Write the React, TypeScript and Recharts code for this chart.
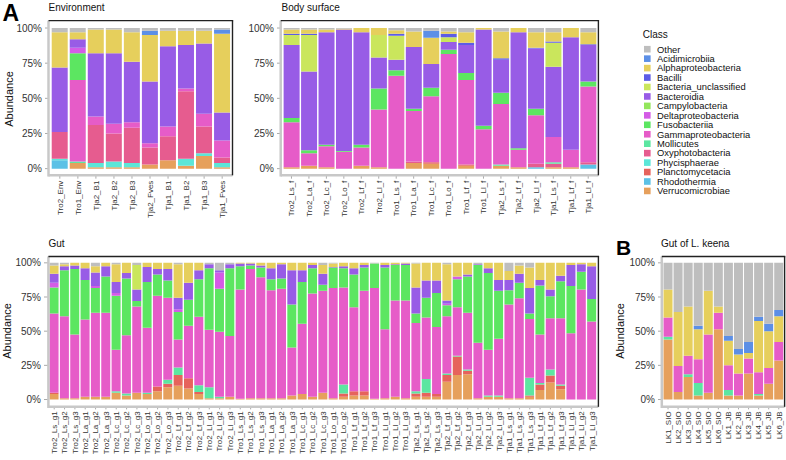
import React from 'react';
import { BarChart, Bar, XAxis, YAxis } from 'recharts';

const FONT = '"Liberation Sans", Arial, Helvetica, sans-serif';

// legend order (top of the stack first)
const CLASSES = [
  'Other', 'Acidimicrobiia', 'Alphaproteobacteria', 'Bacilli', 'Bacteria_unclassified',
  'Bacteroidia', 'Campylobacteria', 'Deltaproteobacteria', 'Fusobacteriia', 'Gammaproteobacteria',
  'Mollicutes', 'Oxyphotobacteria', 'Phycisphaerae', 'Planctomycetacia', 'Rhodothermia', 'Verrucomicrobiae',
];
const CLASS_KEYS = ['Oth', 'Aci', 'Alp', 'Bci', 'BUn', 'Bct', 'Cam', 'Del', 'Fus', 'Gam', 'Mol', 'Oxy', 'Phy', 'Pla', 'Rho', 'Ver'];
const CLASS_COLORS = [
  '#BEBEBE', '#5C8FE6', '#E6CF5C', '#5C5CE6', '#CAE65C',
  '#985CE6', '#93E65C', '#D45CE6', '#5CE661', '#E65CC8',
  '#5CE6A1', '#E65C8F', '#5CE6D8', '#E6635C', '#5CC1E6', '#E6A05C',
];

type Row = { [k: string]: number };

// abundance in %, per sample
const envSamples = ['Tro2_Env', 'Tro1_Env', 'Tja2_B1', 'Tja2_B2', 'Tja2_B3', 'Tja2_Fves', 'Tja1_B1', 'Tja1_B2', 'Tja1_B3', 'Tja1_Fves'];
const envRows: Row[] = [
  { Rho: 6, Phy: 1, Oxy: 19, Bct: 46, Alp: 25, Oth: 3 },
  { Ver: 4, Mol: 1, Gam: 58, Fus: 19, Del: 4, Bct: 6, Alp: 5, Oth: 3 },
  { Ver: 1, Phy: 3, Oxy: 27, Gam: 6, Bct: 45, Alp: 17, Oth: 1 },
  { Ver: 1, Phy: 4, Oxy: 20, Gam: 7, Bct: 50, Alp: 17, Oth: 1 },
  { Ver: 1, Phy: 3, Oxy: 25, Gam: 4, Bct: 43, Alp: 21, Oth: 3 },
  { Ver: 3, Oxy: 12, Gam: 3, Bct: 44, Alp: 33, Aci: 3, Oth: 2 },
  { Ver: 6, Oxy: 17, Gam: 7, Bct: 57, Alp: 11, Oth: 2 },
  { Ver: 2, Phy: 5, Oxy: 48, Gam: 2, Bct: 31, Alp: 10, Oth: 2 },
  { Ver: 9, Phy: 2, Oxy: 19, Gam: 9, Bct: 50, Alp: 9, Oth: 2 },
  { Ver: 1, Phy: 3, Oxy: 4, Gam: 12, Bct: 20, Alp: 56, Aci: 3, Oth: 1 },
];

const bodySamples = [
  'Tro2_Ls_f', 'Tro2_La_f', 'Tro2_Lc_f', 'Tro2_Lo_f', 'Tro2_Lf_f', 'Tro2_Ll_f',
  'Tro1_Ls_f', 'Tro1_La_f', 'Tro1_Lc_f', 'Tro1_Lo_f', 'Tro1_Lf_f', 'Tro1_Ll_f',
  'Tja2_Ls_f', 'Tja2_Lf_f', 'Tja2_Ll_f', 'Tja1_Ls_f', 'Tja1_Lf_f', 'Tja1_Ll_f',
];
const bodyRows: Row[] = [
  { Ver: 1, Gam: 32, Fus: 3, Bct: 52, BUn: 7, Bci: 1, Alp: 3, Oth: 1 },
  { Ver: 2, Gam: 9, Fus: 2, Bct: 56, BUn: 26, Bci: 1, Alp: 3, Oth: 1 },
  { Ver: 1, Gam: 15, Fus: 1, Bct: 80, Alp: 2, Oth: 1 },
  { Gam: 12, Fus: 0.5, Bct: 86.5, Alp: 0.5, Oth: 0.5 },
  { Ver: 2, Gam: 13, Fus: 2, Bct: 80, Alp: 3 },
  { Ver: 1, Gam: 41, Fus: 15, Bct: 22, BUn: 16, Alp: 5 },
  { Gam: 66, Fus: 4, Bct: 7.5, BUn: 17, Bci: 1.5, Alp: 2.5, Oth: 1.5 },
  { Ver: 4, Oxy: 1, Gam: 36, Fus: 1.5, Bct: 44, Alp: 11, Oth: 2.5 },
  { Ver: 3.5, Pla: 1, Gam: 47, Fus: 6, Bct: 17, Alp: 18.5, Aci: 5, Oth: 2 },
  { Gam: 81.5, Fus: 3, Bct: 5.5, BUn: 3.5, Bci: 2.5, Alp: 1.5, Oth: 2.5 },
  { Ver: 2, Pla: 1, Gam: 60, Fus: 5, Bct: 20, Bci: 1.5, Alp: 7.5, Oth: 3 },
  { Gam: 28, Fus: 2.5, Bct: 68.5, Alp: 1 },
  { Ver: 2, Mol: 1, Gam: 43, Fus: 8, Bct: 23.5, Bci: 1, Alp: 19, Oth: 2.5 },
  { Ver: 1, Gam: 12.5, Fus: 1, Bct: 82.5, Alp: 3 },
  { Rho: 1, Oxy: 2.5, Gam: 34.5, Fus: 4.5, Bct: 43, Bci: 0.5, Alp: 11, Oth: 3 },
  { Ver: 1, Oxy: 2.5, Mol: 1, Gam: 18, Bct: 50, BUn: 17, Bci: 1, Alp: 6.5, Oth: 3 },
  { Ver: 1, Gam: 12.5, Bct: 80, Alp: 6.5 },
  { Rho: 3, Oxy: 1.5, Gam: 54, Fus: 3.5, Bct: 26, Bci: 0.5, Alp: 8.5, Oth: 3 },
];

const gutSamples = [
  'Tro2_Ls_g1', 'Tro2_Ls_g2', 'Tro2_Ls_g3', 'Tro2_La_g1', 'Tro2_La_g2', 'Tro2_La_g3',
  'Tro2_Lc_g1', 'Tro2_Lc_g2', 'Tro2_Lc_g3', 'Tro2_Lo_g1', 'Tro2_Lo_g2', 'Tro2_Lo_g3',
  'Tro2_Lf_g1', 'Tro2_Lf_g2', 'Tro2_Lf_g3', 'Tro2_Ll_g1', 'Tro2_Ll_g2', 'Tro2_Ll_g3',
  'Tro1_Ls_g1', 'Tro1_Ls_g2', 'Tro1_Ls_g3', 'Tro1_La_g1', 'Tro1_La_g2', 'Tro1_La_g3',
  'Tro1_Lc_g1', 'Tro1_Lc_g2', 'Tro1_Lc_g3', 'Tro1_Lo_g1', 'Tro1_Lo_g2',
  'Tro1_Lf_g1', 'Tro1_Lf_g2', 'Tro1_Lf_g3', 'Tro1_Ll_g1', 'Tro1_Ll_g2', 'Tro1_Ll_g3',
  'Tja2_Ls_g1', 'Tja2_Ls_g2', 'Tja2_Ls_g3', 'Tja2_Lf_g1', 'Tja2_Lf_g2', 'Tja2_Lf_g3',
  'Tja2_Ll_g1', 'Tja2_Ll_g2', 'Tja2_Ll_g3',
  'Tja1_Ls_g1', 'Tja1_Ls_g2', 'Tja1_Ls_g3', 'Tja1_Lf_g1', 'Tja1_Lf_g2', 'Tja1_Lf_g3',
  'Tja1_Ll_g1', 'Tja1_Ll_g2', 'Tja1_Ll_g3',
];
const gutRows: Row[] = [
  { Ver: 4, Pla: 1, Gam: 58, Fus: 19, Del: 3.5, Bct: 6.5, Alp: 6, Oth: 2 },
  { Ver: 1, Gam: 60, Fus: 33.5, Bct: 3, Alp: 1.5, Oth: 1 },
  { Ver: 1, Gam: 46.5, Fus: 48, Bct: 2.5, Alp: 2 },
  { Ver: 2, Gam: 56.5, Fus: 29, Bct: 8.5, Alp: 4 },
  { Ver: 2, Gam: 61.5, Fus: 18, Del: 1.5, Bct: 10, Alp: 4.5, Oth: 2.5 },
  { Ver: 2, Gam: 61.5, Fus: 26.5, Bct: 7.5, Alp: 2.5 },
  { Ver: 5, Mol: 1, Gam: 30.5, Fus: 39.5, Del: 2, Bct: 8, Alp: 13, Oth: 1 },
  { Ver: 3, Mol: 1.5, Gam: 42.5, Fus: 41.5, Bct: 4, Alp: 7.5 },
  { Ver: 5, Gam: 63, Fus: 4, Bct: 8.5, BUn: 18, Oth: 1.5 },
  { Ver: 4, Mol: 1, Gam: 47.5, Fus: 33.5, Bct: 11, Alp: 3 },
  { Ver: 6, Pla: 3.5, Gam: 66.5, Fus: 15.5, Bct: 4, Alp: 4.5 },
  { Ver: 9, Pla: 2.5, Mol: 3, Gam: 60, Fus: 12.5, Bct: 8.5, Alp: 4.5 },
  { Ver: 10, Pla: 8, Mol: 5.5, Gam: 20.5, Fus: 20, Del: 2, Bct: 8.5, Alp: 24.5, Oth: 1 },
  { Ver: 8, Pla: 7.5, Gam: 38.5, Fus: 19, Bct: 12.5, Alp: 14.5 },
  { Ver: 4, Pla: 1.5, Mol: 5, Gam: 50, Fus: 27.5, Bct: 6.5, Alp: 5.5 },
  { Ver: 1, Mol: 8, Gam: 42, Fus: 45, Bct: 3, Oth: 1 },
  { Ver: 1, Mol: 1, Gam: 47.5, Fus: 31.5, Del: 12, Bct: 1.5, Oth: 5.5 },
  { Ver: 2, Gam: 44.5, Fus: 49.5, Bct: 3, Oth: 1 },
  { Ver: 0.5, Gam: 80, Fus: 17, Bct: 2, Alp: 0.5 },
  { Ver: 1, Gam: 94.5, Fus: 2.5, Bct: 1.5, Alp: 0.5 },
  { Ver: 1, Gam: 88.5, Fus: 7, Bct: 1.5, Alp: 2 },
  { Ver: 1, Gam: 79, Fus: 8, Bct: 8, Alp: 4 },
  { Ver: 1, Gam: 80, Fus: 7.5, Bct: 10.5, Alp: 1 },
  { Ver: 3, Gam: 35, Fus: 31.5, Bct: 25, Alp: 5.5 },
  { Ver: 4, Gam: 51.5, Fus: 30.5, Bct: 8.5, Alp: 5.5 },
  { Ver: 2, Gam: 75.5, Fus: 18.5, Bct: 2.5, Alp: 1.5 },
  { Ver: 5, Gam: 74.5, Fus: 4.5, Bct: 8, Alp: 6.5, Oth: 1.5 },
  { Ver: 1, Gam: 80.5, Fus: 15, Bct: 0.5, Alp: 2.5, Oth: 0.5 },
  { Ver: 2, Pla: 2.5, Mol: 6.5, Gam: 71, Fus: 14, Bct: 1.5, Alp: 2.5 },
  { Ver: 3, Pla: 3, Gam: 61.5, Fus: 24, Bct: 4.5, Alp: 4 },
  { Ver: 3, Pla: 3, Gam: 73.5, Fus: 17, Bct: 2, Alp: 1.5 },
  { Ver: 0.5, Gam: 81, Fus: 18, Oth: 0.5 },
  { Ver: 1, Gam: 50.5, Fus: 45, Bct: 2, Alp: 1.5 },
  { Ver: 2, Gam: 70.5, Fus: 26, Bct: 0.5, Alp: 1 },
  { Ver: 1, Gam: 71.5, Fus: 26, Bct: 1, Alp: 0.5 },
  { Ver: 2, Pla: 2.5, Mol: 1.5, Gam: 50, Fus: 7, Bct: 19, Alp: 17.5, Oth: 0.5 },
  { Ver: 2, Pla: 3, Mol: 10, Gam: 45, Fus: 14.5, Bct: 12.5, Alp: 13 },
  { Ver: 2, Pla: 2, Gam: 49, Fus: 25, Bct: 9, Alp: 13 },
  { Ver: 13, Pla: 5, Mol: 1, Gam: 42, Fus: 8, Del: 1, Bct: 2.5, Alp: 26.5, Oth: 1 },
  { Ver: 18, Pla: 13.5, Mol: 0.5, Gam: 35.5, Fus: 20.5, Del: 2, Alp: 10 },
  { Ver: 18.5, Pla: 2.5, Mol: 1, Gam: 41.5, Fus: 26.5, Bct: 1.5, Alp: 8.5 },
  { Ver: 1, Gam: 40.5, Fus: 57, Bct: 0.5, Oth: 1 },
  { Ver: 2, Mol: 1, Gam: 33.5, Fus: 56, Bct: 3.5, Alp: 4 },
  { Ver: 2, Mol: 1, Gam: 41.5, Fus: 35, Bct: 8, Alp: 12.5 },
  { Ver: 1, Gam: 68.5, Fus: 10.5, Bct: 7.5, Alp: 6.5, Oth: 6 },
  { Ver: 1, Gam: 73, Fus: 11.5, Bct: 6.5, Alp: 6, Oth: 2 },
  { Ver: 2, Pla: 1, Mol: 13, Gam: 43, Fus: 4, Bct: 18.5, Alp: 15, Oth: 3.5 },
  { Ver: 7, Pla: 4, Mol: 1, Gam: 35.5, Fus: 36, Bct: 4, Alp: 12.5 },
  { Ver: 12.5, Pla: 5, Mol: 4.5, Gam: 37.5, Fus: 16, Bct: 5, Alp: 19.5 },
  { Ver: 7.5, Pla: 2.5, Mol: 1, Gam: 48.5, Fus: 27, Bct: 4, Alp: 9.5 },
  { Gam: 48.5, Fus: 34.5, Bct: 15.5, Alp: 1.5 },
  { Gam: 80.5, Fus: 13, Bct: 5.5, Alp: 1 },
  { Gam: 57, Fus: 16.5, Bct: 24, Alp: 2.5 },
];

const lkSamples = ['LK1_SIO', 'LK2_SIO', 'LK3_SIO', 'LK4_SIO', 'LK5_SIO', 'LK6_SIO', 'LK1_JB', 'LK2_JB', 'LK3_JB', 'LK4_JB', 'LK5_JB', 'LK6_JB'];
const lkRows: Row[] = [
  { Ver: 44, Mol: 2, Gam: 14, Alp: 20.5, Oth: 19.5 },
  { Ver: 5.5, Gam: 19, Alp: 39.5, Oth: 36 },
  { Ver: 16.5, Mol: 2, Gam: 13.5, Alp: 36, Oth: 32 },
  { Ver: 3, Mol: 9, Gam: 17.5, Alp: 22, Aci: 2.5, Oth: 46 },
  { Ver: 5, Gam: 42.5, Alp: 32, Oth: 20.5 },
  { Ver: 51.5, Gam: 12, Alp: 4.5, Oth: 32 },
  { Ver: 3, Mol: 4, Gam: 18, Alp: 18, Aci: 3.5, Oth: 53.5 },
  { Ver: 3, Gam: 16, Alp: 14, Aci: 4, Oth: 63 },
  { Ver: 19, Gam: 11, Alp: 4, Aci: 8, Oth: 58 },
  { Ver: 3, Mol: 1, Gam: 16, Alp: 37.5, Aci: 3, Oth: 39.5 },
  { Ver: 11.5, Gam: 11.5, Alp: 27, Aci: 5.5, Oth: 44.5 },
  { Ver: 28.5, Gam: 13.5, Alp: 19, Aci: 4.5, Oth: 34.5 },
];

const Y_TICKS = [0, 0.25, 0.5, 0.75, 1];
const AXIS_W = 40;
const XAXIS_H = 60;

const XTick = (props: any) => {
  const { x, y, payload } = props;
  return (
    <text x={x} y={y} transform={`rotate(-90 ${x} ${y})`} textAnchor="end" dy="0.35em" fontSize={8} fill="#333">
      {payload.value}
    </text>
  );
};

interface PanelProps {
  samples: string[];
  rows: Row[];
  x0: number;
  x1: number;
  top: number; // y of 100%
  bottom: number; // y of 0%
}

const panelBox = (p: { x0: number; x1: number; top: number; bottom: number }) => {
  const u = p.bottom - p.top;
  return { x0: p.x0, x1: p.x1, y0: p.top - 0.05 * u, y1: p.bottom + 0.05 * u };
};

const StackPanel: React.FC<PanelProps> = ({ samples, rows, x0, x1, top, bottom }) => {
  const { y0, y1 } = panelBox({ x0, x1, top, bottom });
  const n = samples.length;
  const pad = ((x1 - x0) * 0.1) / (n + 0.2);
  const data = samples.map((s, i) => {
    const d: { [k: string]: string | number } = { sample: s };
    CLASS_KEYS.forEach((k) => {
      d[k] = (rows[i][k] ?? 0) / 100;
    });
    return d;
  });
  // Verrucomicrobiae sits at the bottom, Other on top
  const stack = CLASS_KEYS.map((k, i) => ({ k, color: CLASS_COLORS[i] })).reverse();

  return (
    <div style={{ position: 'absolute', left: x0 - AXIS_W, top: y0 }}>
      <BarChart
        width={x1 - x0 + AXIS_W}
        height={y1 - y0 + XAXIS_H}
        data={data}
        margin={{ top: 0, right: 0, bottom: 0, left: 0 }}
        barCategoryGap="5%"
      >
        <XAxis
          dataKey="sample"
          interval={0}
          height={XAXIS_H}
          padding={{ left: pad, right: pad }}
          axisLine={false}
          tickLine={{ stroke: '#aaa' }}
          tickSize={3}
          tickMargin={2}
          tick={<XTick />}
        />
        <YAxis
          width={AXIS_W}
          type="number"
          domain={[-0.05, 1.05]}
          allowDataOverflow
          ticks={Y_TICKS}
          interval={0}
          tickFormatter={(v: number) => `${Math.round(v * 100)}%`}
          axisLine={false}
          tickLine={{ stroke: '#aaa' }}
          tickSize={4}
          tickMargin={3}
          tick={{ fontSize: 10, fill: '#333' }}
        />
        {stack.map((s) => (
          <Bar key={s.k} dataKey={s.k} stackId="a" fill={s.color} isAnimationActive={false} />
        ))}
      </BarChart>
    </div>
  );
};

const ENV = { x0: 48.5, x1: 232.5, top: 27.7, bottom: 168.3 };
const BODY = { x0: 280.7, x1: 598.4, top: 27.7, bottom: 168.3 };
const GUT = { x0: 48.4, x1: 598.4, top: 263.3, bottom: 400 };
const LK = { x0: 661.8, x1: 784.6, top: 263.3, bottom: 400 };

const Frame = ({ p }: { p: { x0: number; x1: number; top: number; bottom: number } }) => {
  const b = panelBox(p);
  return (
    <g>
      <line x1={b.x0} y1={b.y1} x2={b.x1} y2={b.y1} stroke="#c8c8c8" strokeWidth={2.5} />
      <line x1={b.x0} y1={b.y0} x2={b.x0} y2={b.y1 + 1.2} stroke="#c8c8c8" strokeWidth={2.5} />
      <line x1={b.x0} y1={b.y0} x2={b.x1 + 0.7} y2={b.y0} stroke="#222" strokeWidth={1.4} />
      <line x1={b.x1} y1={b.y0} x2={b.x1} y2={b.y1} stroke="#222" strokeWidth={1.4} />
    </g>
  );
};

const YTitle = ({ x, y }: { x: number; y: number }) => (
  <text x={x} y={y} transform={`rotate(-90 ${x} ${y})`} textAnchor="middle" dominantBaseline="central" fontSize={11} fill="#111">
    Abundance
  </text>
);

const App: React.FC = () => {
  return (
    <div style={{ position: 'absolute', left: 0, top: 0, width: 786, height: 460, overflow: 'hidden', background: '#fff', fontFamily: FONT }}>
      <StackPanel samples={envSamples} rows={envRows} {...ENV} />
      <StackPanel samples={bodySamples} rows={bodyRows} {...BODY} />
      <StackPanel samples={gutSamples} rows={gutRows} {...GUT} />
      <StackPanel samples={lkSamples} rows={lkRows} {...LK} />

      <svg width={786} height={460} style={{ position: 'absolute', left: 0, top: 0, pointerEvents: 'none', fontFamily: FONT }}>
        <Frame p={ENV} />
        <Frame p={BODY} />
        <Frame p={GUT} />
        <Frame p={LK} />

        <text x={2.5} y={20.5} fontSize={23} fontWeight="bold" fill="#000">A</text>
        <text x={616} y={255} fontSize={21} fontWeight="bold" fill="#000">B</text>

        <text x={48.5} y={10.5} fontSize={10} fill="#111">Environment</text>
        <text x={281.5} y={10.5} fontSize={10} fill="#111">Body surface</text>
        <text x={48.5} y={246.5} fontSize={10} fill="#111">Gut</text>
        <text x={661} y={246.5} fontSize={10} fill="#111">Gut of L. keena</text>

        <YTitle x={9} y={99} />
        <YTitle x={7} y={331} />
        <YTitle x={619.5} y={331} />

        <text x={642.7} y={37.5} fontSize={10} fill="#111">Class</text>
        {CLASSES.map((c, i) => {
          const cy = 49.2 + i * 9.45;
          return (
            <g key={c}>
              <rect x={644} y={cy - 3.3} width={6.6} height={6.6} fill={CLASS_COLORS[i]} />
              <text x={657} y={cy + 3.3} fontSize={9.4} fill="#111">{c}</text>
            </g>
          );
        })}
      </svg>
    </div>
  );
};

export default App;
